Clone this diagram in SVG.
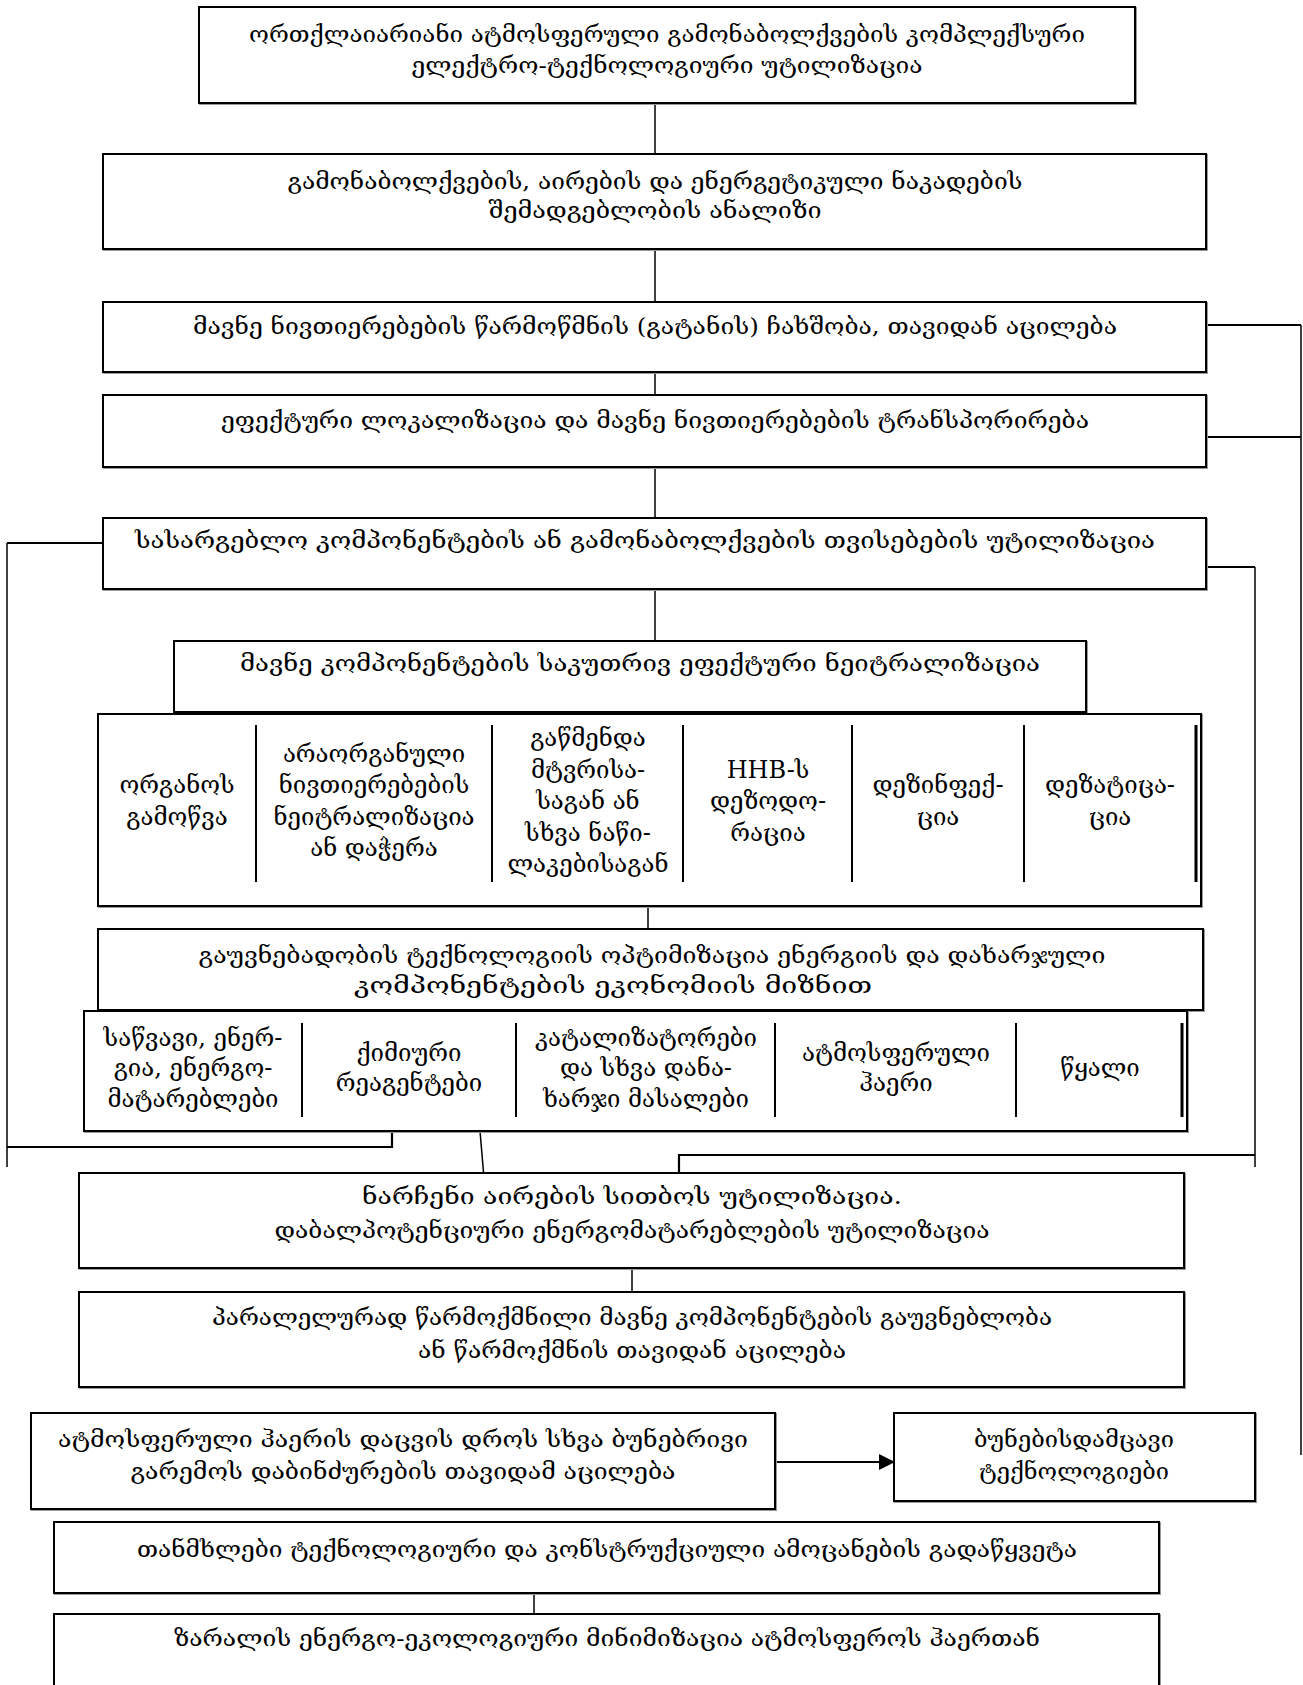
<svg xmlns="http://www.w3.org/2000/svg" width="1303" height="1685" viewBox="0 0 1303 1685">
<style>
  .box { fill: #ffffff; stroke: #000000; stroke-width: 2; filter: drop-shadow(1px 1px 0 #9a9a9a); }
  .sep { stroke: #000000; stroke-width: 2; fill: none; }
  .sep3 { stroke: #000000; stroke-width: 3; fill: none; }
  .con { stroke: #000000; stroke-width: 1.5; fill: none; }
  .bus { stroke: #000000; stroke-width: 2.2; fill: none; }
  text { font-family: "DejaVu Serif", "DejaVu Sans", serif; font-size: 23px; fill: #000000; text-anchor: middle; }
  .cell { font-size: 24px; }
</style>
<defs>
  <marker id="arrow" markerWidth="16" markerHeight="16" refX="15" refY="8" orient="auto" markerUnits="userSpaceOnUse">
    <path d="M0,0 L16,8 L0,16 Z" fill="#000000"/>
  </marker>
</defs>
<rect x="0" y="0" width="1303" height="1685" fill="#ffffff"/>

<g id="connectors">
  <line class="con" x1="655" y1="103" x2="655" y2="154"/>
  <line class="con" x1="655" y1="249" x2="655" y2="302"/>
  <line class="con" x1="655" y1="372" x2="655" y2="395"/>
  <line class="con" x1="655" y1="467" x2="655" y2="518"/>
  <line class="con" x1="655" y1="589" x2="655" y2="641"/>
  <polyline class="bus" points="1206,325 1301,325"/>
  <polyline class="bus" points="1206,437 1301,437"/>
  <line class="con" x1="1301" y1="325" x2="1301" y2="1455"/>
  <polyline class="bus" points="1206,567 1255,567"/>
  <line class="con" x1="1255" y1="567" x2="1255" y2="1167"/>
  <polyline class="bus" points="1255,1155 679,1155 679,1178"/>
  <polyline class="bus" points="103,543 7,543"/>
  <line class="con" x1="7" y1="543" x2="7" y2="1167"/>
  <polyline class="bus" points="7,1147 392,1147 392,1131"/>
  <line class="con" x1="648" y1="906" x2="648" y2="952"/>
  <line class="con" x1="480" y1="1131" x2="484" y2="1178"/>
  <line class="con" x1="632" y1="1268" x2="632" y2="1292"/>
  <line class="bus" x1="775" y1="1462" x2="894" y2="1462" marker-end="url(#arrow)"/>
  <line class="con" x1="534" y1="1593" x2="534" y2="1614"/>
</g>

<g id="node1">
  <rect class="box" x="199" y="7" width="936" height="96"/>
  <text x="667" y="42" textLength="836" lengthAdjust="spacingAndGlyphs">ორთქლაიარიანი ატმოსფერული გამონაბოლქვების კომპლექსური</text>
  <text x="667" y="73" textLength="511" lengthAdjust="spacingAndGlyphs">ელექტრო-ტექნოლოგიური უტილიზაცია</text>
</g>
<g id="node2">
  <rect class="box" x="103" y="154" width="1103" height="95"/>
  <text x="655" y="189" textLength="735" lengthAdjust="spacingAndGlyphs">გამონაბოლქვების, აირების და ენერგეტიკული ნაკადების</text>
  <text x="655" y="218" textLength="333" lengthAdjust="spacingAndGlyphs">შემადგებლობის ანალიზი</text>
</g>
<g id="node3">
  <rect class="box" x="103" y="302" width="1103" height="70"/>
  <text x="655" y="334" textLength="924" lengthAdjust="spacingAndGlyphs">მავნე ნივთიერებების წარმოწმნის (გატანის) ჩახშობა, თავიდან აცილება</text>
</g>
<g id="node4">
  <rect class="box" x="103" y="395" width="1103" height="72"/>
  <text x="655" y="428" textLength="868" lengthAdjust="spacingAndGlyphs">ეფექტური ლოკალიზაცია და მავნე ნივთიერებების ტრანსპორირება</text>
</g>
<g id="node5">
  <rect class="box" x="103" y="518" width="1103" height="71"/>
  <text x="645" y="548" textLength="1020" lengthAdjust="spacingAndGlyphs">სასარგებლო კომპონენტების ან გამონაბოლქვების თვისებების უტილიზაცია</text>
</g>
<g id="node6">
  <rect class="box" x="174" y="641" width="912" height="71"/>
  <text x="640" y="671" textLength="800" lengthAdjust="spacingAndGlyphs">მავნე კომპონენტების საკუთრივ ეფექტური ნეიტრალიზაცია</text>
</g>

<g id="node7">
  <rect class="box" x="98" y="714" width="1103" height="192"/>
  <line class="sep" x1="256" y1="725" x2="256" y2="882"/>
  <line class="sep" x1="492" y1="725" x2="492" y2="882"/>
  <line class="sep" x1="683" y1="725" x2="683" y2="882"/>
  <line class="sep" x1="852" y1="725" x2="852" y2="882"/>
  <line class="sep" x1="1024" y1="725" x2="1024" y2="882"/>
  <line class="sep3" x1="1196" y1="725" x2="1196" y2="882"/>
  <text class="cell" x="177" y="793">ორგანოს</text>
  <text class="cell" x="177" y="825">გამოწვა</text>
  <text class="cell" x="374" y="762">არაორგანული</text>
  <text class="cell" x="374" y="793">ნივთიერებების</text>
  <text class="cell" x="374" y="825">ნეიტრალიზაცია</text>
  <text class="cell" x="374" y="856">ან დაჭერა</text>
  <text class="cell" x="588" y="746">გაწმენდა</text>
  <text class="cell" x="588" y="778">მტვრისა-</text>
  <text class="cell" x="588" y="809">საგან ან</text>
  <text class="cell" x="588" y="841">სხვა ნაწი-</text>
  <text class="cell" x="588" y="872">ლაკებისაგან</text>
  <text class="cell" x="768" y="778">HHB-ს</text>
  <text class="cell" x="768" y="809">დეზოდო-</text>
  <text class="cell" x="768" y="841">რაცია</text>
  <text class="cell" x="938" y="793">დეზინფექ-</text>
  <text class="cell" x="938" y="825">ცია</text>
  <text class="cell" x="1110" y="793">დეზატიცა-</text>
  <text class="cell" x="1110" y="825">ცია</text>
</g>

<g id="node8">
  <rect class="box" x="98" y="929" width="1105" height="81"/>
  <text x="652" y="963" textLength="907" lengthAdjust="spacingAndGlyphs">გაუვნებადობის ტექნოლოგიის ოპტიმიზაცია ენერგიის და დახარჯული</text>
  <text x="613" y="993" textLength="518" lengthAdjust="spacingAndGlyphs">კომპონენტების ეკონომიის მიზნით</text>
</g>

<g id="node9">
  <rect class="box" x="84" y="1011" width="1103" height="120"/>
  <line class="sep" x1="302" y1="1023" x2="302" y2="1117"/>
  <line class="sep" x1="516" y1="1023" x2="516" y2="1117"/>
  <line class="sep" x1="775" y1="1023" x2="775" y2="1117"/>
  <line class="sep" x1="1016" y1="1023" x2="1016" y2="1117"/>
  <line class="sep3" x1="1182" y1="1023" x2="1182" y2="1117"/>
  <text class="cell" x="193" y="1046">საწვავი, ენერ-</text>
  <text class="cell" x="193" y="1076">გია, ენერგო-</text>
  <text class="cell" x="193" y="1107">მატარებლები</text>
  <text class="cell" x="409" y="1061">ქიმიური</text>
  <text class="cell" x="409" y="1091">რეაგენტები</text>
  <text class="cell" x="646" y="1046">კატალიზატორები</text>
  <text class="cell" x="646" y="1076">და სხვა დანა-</text>
  <text class="cell" x="646" y="1107">ხარჯი მასალები</text>
  <text class="cell" x="896" y="1061">ატმოსფერული</text>
  <text class="cell" x="896" y="1091">ჰაერი</text>
  <text class="cell" x="1100" y="1076">წყალი</text>
</g>

<g id="node10">
  <rect class="box" x="79" y="1173" width="1105" height="95"/>
  <text x="632" y="1204" textLength="540" lengthAdjust="spacingAndGlyphs">ნარჩენი აირების სითბოს უტილიზაცია.</text>
  <text x="632" y="1238" textLength="715" lengthAdjust="spacingAndGlyphs">დაბალპოტენციური ენერგომატარებლების უტილიზაცია</text>
</g>
<g id="node11">
  <rect class="box" x="79" y="1292" width="1105" height="95"/>
  <text x="632" y="1325" textLength="840" lengthAdjust="spacingAndGlyphs">პარალელურად წარმოქმნილი მავნე კომპონენტების გაუვნებლობა</text>
  <text x="632" y="1358" textLength="428" lengthAdjust="spacingAndGlyphs">ან წარმოქმნის თავიდან აცილება</text>
</g>
<g id="node12">
  <rect class="box" x="31" y="1413" width="744" height="96"/>
  <text x="403" y="1447" textLength="690" lengthAdjust="spacingAndGlyphs">ატმოსფერული ჰაერის დაცვის დროს სხვა ბუნებრივი</text>
  <text x="403" y="1479" textLength="545" lengthAdjust="spacingAndGlyphs">გარემოს დაბინძურების თავიდამ აცილება</text>
</g>
<g id="node13">
  <rect class="box" x="894" y="1413" width="361" height="88"/>
  <text x="1074" y="1447" textLength="200" lengthAdjust="spacingAndGlyphs">ბუნებისდამცავი</text>
  <text x="1074" y="1479" textLength="190" lengthAdjust="spacingAndGlyphs">ტექნოლოგიები</text>
</g>
<g id="node14">
  <rect class="box" x="54" y="1522" width="1105" height="71"/>
  <text x="607" y="1557" textLength="940" lengthAdjust="spacingAndGlyphs">თანმხლები ტექნოლოგიური და კონსტრუქციული ამოცანების გადაწყვეტა</text>
</g>
<g id="node15">
  <rect class="box" x="54" y="1614" width="1105" height="90"/>
  <text x="607" y="1646" textLength="866" lengthAdjust="spacingAndGlyphs">ზარალის ენერგო-ეკოლოგიური მინიმიზაცია ატმოსფეროს ჰაერთან</text>
</g>
</svg>
